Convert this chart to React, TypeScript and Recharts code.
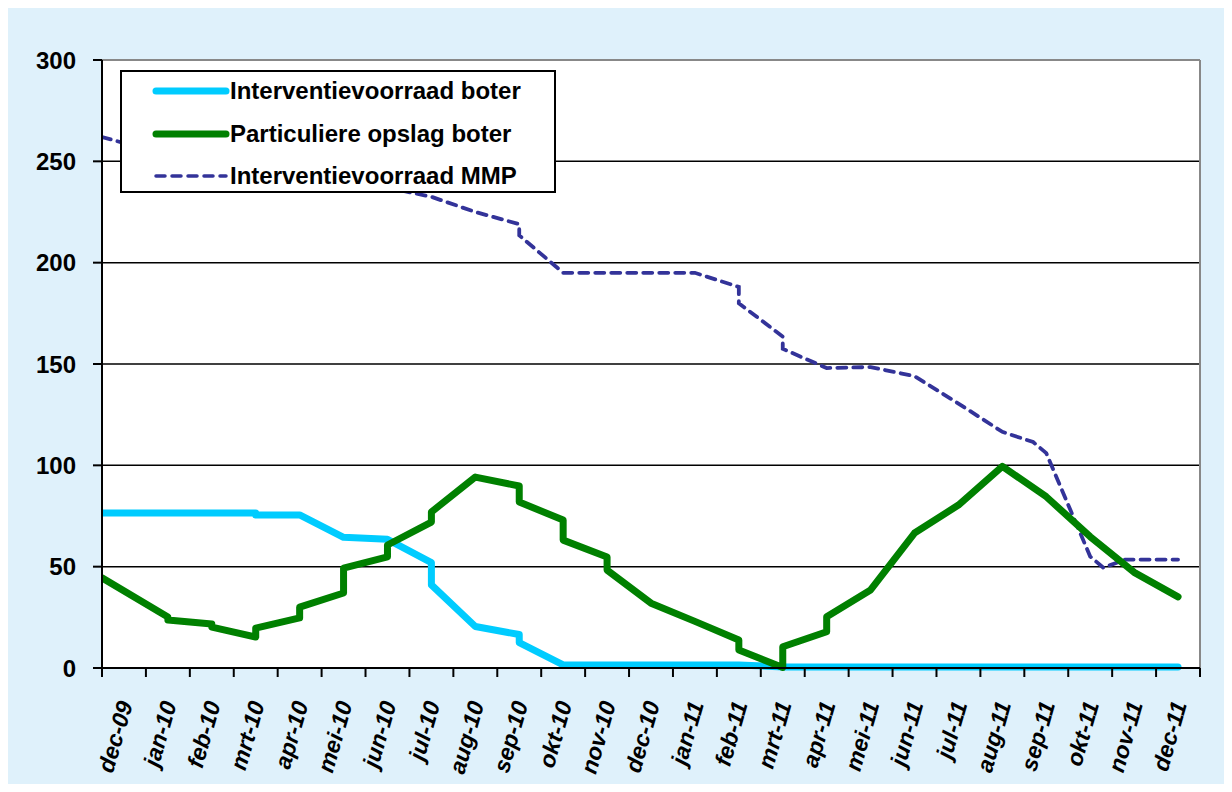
import { LineChart, Line, XAxis, YAxis, CartesianGrid, Legend, ReferenceLine } from 'recharts';

const FONT = '"Liberation Sans", Arial, sans-serif';

// maand-labels, één per categorie
const months = [
  'dec-09', 'jan-10', 'feb-10', 'mrt-10', 'apr-10', 'mei-10', 'jun-10', 'jul-10', 'aug-10',
  'sep-10', 'okt-10', 'nov-10', 'dec-10', 'jan-11', 'feb-11', 'mrt-11', 'apr-11', 'mei-11',
  'jun-11', 'jul-11', 'aug-11', 'sep-11', 'okt-11', 'nov-11', 'dec-11',
];
const monthTicks = [0, 1, 2, 3, 4, 5, 6, 7, 8, 9, 10, 11, 12, 13, 14, 15, 16, 17, 18, 19, 20, 21, 22, 23, 24, 25];
const yTicks = [0, 50, 100, 150, 200, 250, 300];

// Interventievoorraad boter (x = positie in maanden)
const boterX = [0, 3.5, 3.5, 4.5, 5.5, 6.5, 7.5, 7.5, 8.5, 9.5, 9.5, 10.5, 14.5, 15.5, 24.5];
const boterY = [76.5, 76.5, 75.5, 75.5, 64.5, 63.5, 52, 41, 20.5, 16.5, 12.5, 1.5, 1.5, 0.5, 0.5];

// Particuliere opslag boter
const opslagX = [0, 1.5, 1.5, 2.5, 2.5, 3.5, 3.5, 4.5, 4.5, 5.5, 5.5, 6.5, 6.5, 7.5, 7.5, 8.5, 9.5, 9.5,
  10.5, 10.5, 11.5, 11.5, 12.5, 13.5, 14.5, 14.5, 15.5, 15.5, 16.5, 16.5, 17.5, 18.5, 19.5, 20.5, 21.5,
  22.5, 23.5, 24.5];
const opslagY = [44.5, 25.2, 23.7, 21.7, 20.2, 15.3, 19.7, 24.7, 30, 37, 49.3, 54.8, 60.7, 72, 77, 94.2,
  89.8, 81.9, 73, 63.1, 54.8, 48.3, 32, 23, 13.8, 8.9, 0.3, 10.5, 17.9, 25.3, 38.5, 66.6, 80.4, 99.5,
  84.5, 64.8, 47.2, 35.1];

// Interventievoorraad MMP
const mmpX = [0, 0.5, 1.5, 2.5, 3.5, 4.5, 5.5, 6.5, 7.5, 8.5, 9.5, 9.5, 10.5, 11.5, 12.5, 13.5, 14.5,
  14.5, 15.5, 15.5, 16.5, 17.5, 18.5, 19.5, 20.5, 21.2, 21.5, 22.5, 22.8, 23.3, 24.5];
const mmpY = [262, 259, 256, 252, 249, 245, 241, 237, 232.5, 225, 219, 213.5, 195, 195, 195, 195, 188,
  180, 163.5, 157.5, 148, 148.5, 144, 130.5, 116.5, 111.5, 106, 55, 49.5, 53.5, 53.5];

const toPoints = (xs: number[], ys: number[]) => xs.map((x, i) => ({ x, y: ys[i] }));

const boterData = toPoints(boterX, boterY);
const opslagData = toPoints(opslagX, opslagY);
const mmpData = toPoints(mmpX, mmpY);

const legendItems = [
  { name: 'Interventievoorraad boter', color: '#00CCFF', width: 7, dash: undefined },
  { name: 'Particuliere opslag boter', color: '#008000', width: 7, dash: undefined },
  { name: 'Interventievoorraad MMP', color: '#333399', width: 3.5, dash: '9 7' },
];

const CHART_W = 1216;
const CHART_H = 776;
const PLOT_LEFT = 94;
const PLOT_RIGHT = 24;
const HALF_STEP = (CHART_W - PLOT_LEFT - PLOT_RIGHT) / 25 / 2;

function MonthTick(props: any) {
  const { x, y, payload } = props;
  const label = months[payload.value];
  if (!label) return null;
  return (
    <g transform={`translate(${x + HALF_STEP + 9},${y + 25})`}>
      <text
        transform="rotate(-74)"
        textAnchor="end"
        fontFamily={FONT}
        fontSize={23}
        fontWeight="bold"
        fontStyle="italic"
        fill="#000"
      >
        {label}
      </text>
    </g>
  );
}

function LegendBox() {
  return (
    <div
      style={{
        position: 'relative',
        width: 432,
        height: 119,
        background: '#fff',
        border: '2px solid #000',
        fontFamily: FONT,
        fontWeight: 'bold',
        fontSize: 24,
        color: '#000',
      }}
    >
      {legendItems.map((item, i) => (
        <div key={item.name} style={{ position: 'absolute', left: 0, top: 4 + i * 42.5, height: 30, display: 'flex', alignItems: 'center' }}>
          <svg width={108} height={12} style={{ display: 'block' }}>
            <line x1={34} y1={6} x2={104} y2={6} stroke={item.color} strokeWidth={item.width}
              strokeDasharray={item.dash} strokeLinecap="round" />
          </svg>
          <span style={{ whiteSpace: 'nowrap' }}>{item.name}</span>
        </div>
      ))}
    </div>
  );
}

export default function App() {
  return (
    <div style={{ width: CHART_W, height: CHART_H, background: '#DFF1FB' }}>
      <LineChart width={CHART_W} height={CHART_H} margin={{ top: 52, right: PLOT_RIGHT, left: 0, bottom: 0 }}>
        <CartesianGrid horizontal vertical={false} horizontalValues={[50, 100, 150, 200, 250]}
          stroke="#000" strokeWidth={1.5} fill="#fff" fillOpacity={1} />
        <XAxis dataKey="x" type="number" domain={[0, 25]} ticks={monthTicks} interval={0} height={116}
          tickSize={9} allowDataOverflow stroke="#000" strokeWidth={2} tick={<MonthTick />} />
        <YAxis type="number" domain={[0, 300]} ticks={yTicks} width={PLOT_LEFT} tickSize={9} tickMargin={17}
          stroke="#000" strokeWidth={2}
          tick={{ fill: '#000', fontSize: 24, fontWeight: 'bold', fontFamily: FONT }} />
        <ReferenceLine y={300} stroke="#888" strokeWidth={2} />
        <ReferenceLine x={25} stroke="#888" strokeWidth={2} />
        <Line data={mmpData} dataKey="y" type="linear" stroke="#333399" strokeWidth={3.8}
          strokeDasharray="9 7" strokeLinecap="round" dot={false} isAnimationActive={false} />
        <Line data={boterData} dataKey="y" type="linear" stroke="#00CCFF" strokeWidth={7}
          strokeLinecap="round" strokeLinejoin="round" dot={false} isAnimationActive={false} />
        <Line data={opslagData} dataKey="y" type="linear" stroke="#008000" strokeWidth={7}
          strokeLinecap="round" strokeLinejoin="round" dot={false} isAnimationActive={false} />
        <Legend layout="horizontal" verticalAlign="middle" align="center" content={<LegendBox />}
          wrapperStyle={{ left: 112, top: 62, width: 436, height: 123 }} />
      </LineChart>
    </div>
  );
}
